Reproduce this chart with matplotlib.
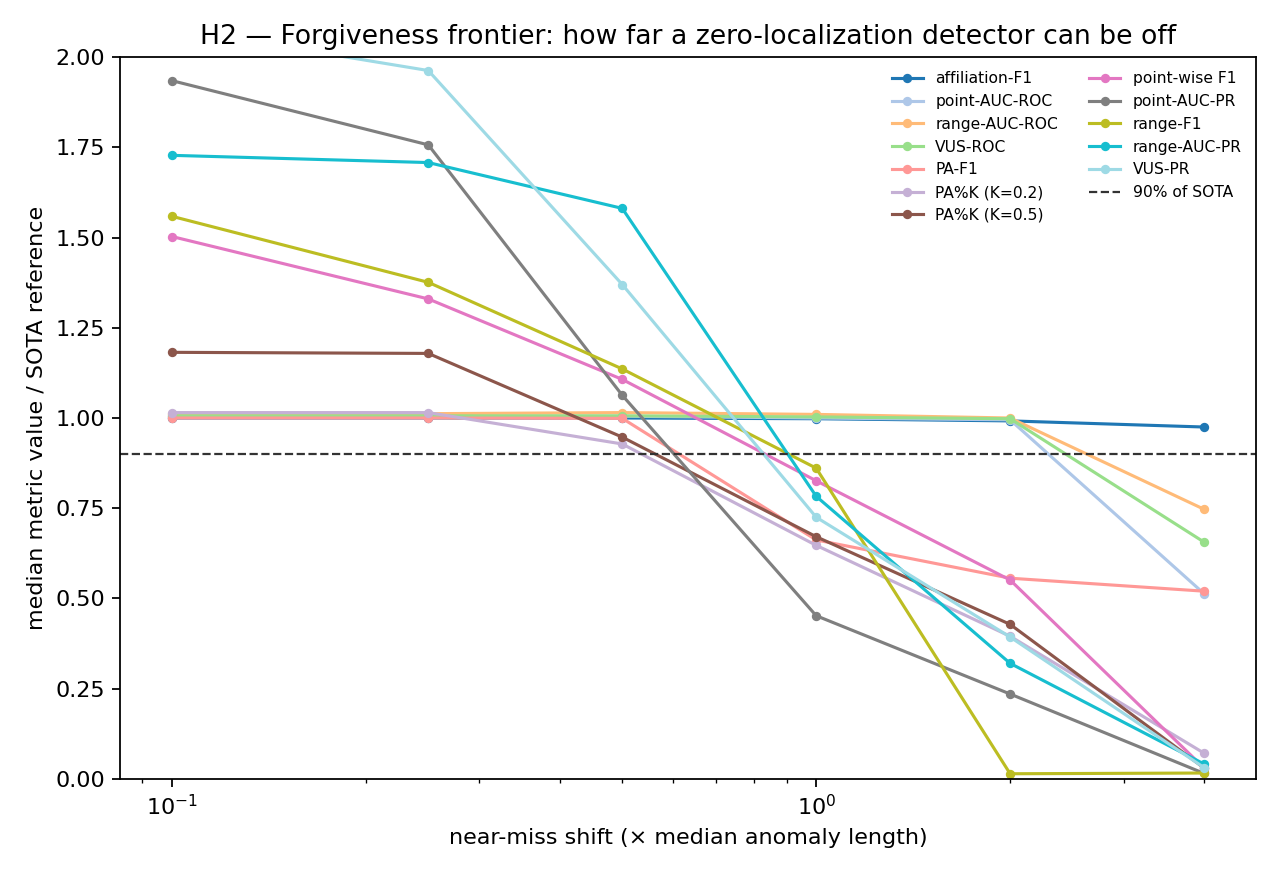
import numpy as np
import matplotlib
matplotlib.use('Agg')
import matplotlib.pyplot as plt

# сдвиги (в долях медианной длины аномалии)
shifts = [0.1, 0.25, 0.5, 1.0, 2.0, 4.0]

affiliation_f1 = [1.000, 1.000, 1.000, 0.998, 0.992, 0.975]
point_auc_roc = [1.005, 1.005, 1.005, 1.000, 0.995, 0.513]
range_auc_roc = [1.012, 1.012, 1.015, 1.010, 1.000, 0.747]
vus_roc = [1.006, 1.006, 1.006, 1.003, 0.998, 0.656]
pa_f1 = [1.000, 1.000, 0.999, 0.662, 0.556, 0.520]
pak_02 = [1.015, 1.015, 0.928, 0.647, 0.395, 0.071]
pak_05 = [1.182, 1.179, 0.947, 0.671, 0.428, 0.030]
pointwise_f1 = [1.503, 1.330, 1.107, 0.826, 0.551, 0.030]
point_auc_pr = [1.935, 1.757, 1.063, 0.452, 0.235, 0.015]
range_f1 = [1.559, 1.376, 1.136, 0.861, 0.014, 0.016]
range_auc_pr = [1.728, 1.708, 1.581, 0.783, 0.320, 0.041]
vus_pr = [2.08, 1.963, 1.370, 0.725, 0.393, 0.031]

series = [
    ('affiliation-F1', affiliation_f1, '#1f77b4'),
    ('point-AUC-ROC', point_auc_roc, '#aec7e8'),
    ('range-AUC-ROC', range_auc_roc, '#ffbb78'),
    ('VUS-ROC', vus_roc, '#98df8a'),
    ('PA-F1', pa_f1, '#ff9896'),
    ('PA%K (K=0.2)', pak_02, '#c5b0d5'),
    ('PA%K (K=0.5)', pak_05, '#8c564b'),
    ('point-wise F1', pointwise_f1, '#e377c2'),
    ('point-AUC-PR', point_auc_pr, '#7f7f7f'),
    ('range-F1', range_f1, '#bcbd22'),
    ('range-AUC-PR', range_auc_pr, '#17becf'),
    ('VUS-PR', vus_pr, '#9edae5'),
]

fig, ax = plt.subplots(figsize=(8, 5.5), dpi=160)

for name, vals, col in series:
    ax.plot(shifts, vals, marker='o', markersize=3.2, linewidth=1.4, color=col, label=name)

ax.axhline(0.9, color='#333333', linestyle='--', linewidth=1, label='90% of SOTA')

ax.set_xscale('log')
ax.set_ylim(0, 2.0)
ax.set_xlabel('near-miss shift (× median anomaly length)')
ax.set_ylabel('median metric value / SOTA reference')
ax.set_title('H2 — Forgiveness frontier: how far a zero-localization detector can be off')
ax.legend(ncol=2, fontsize=7, frameon=False, loc='upper right')

fig.subplots_adjust(left=0.094, right=0.981, top=0.935, bottom=0.115)
plt.savefig('out.png', dpi=160)
